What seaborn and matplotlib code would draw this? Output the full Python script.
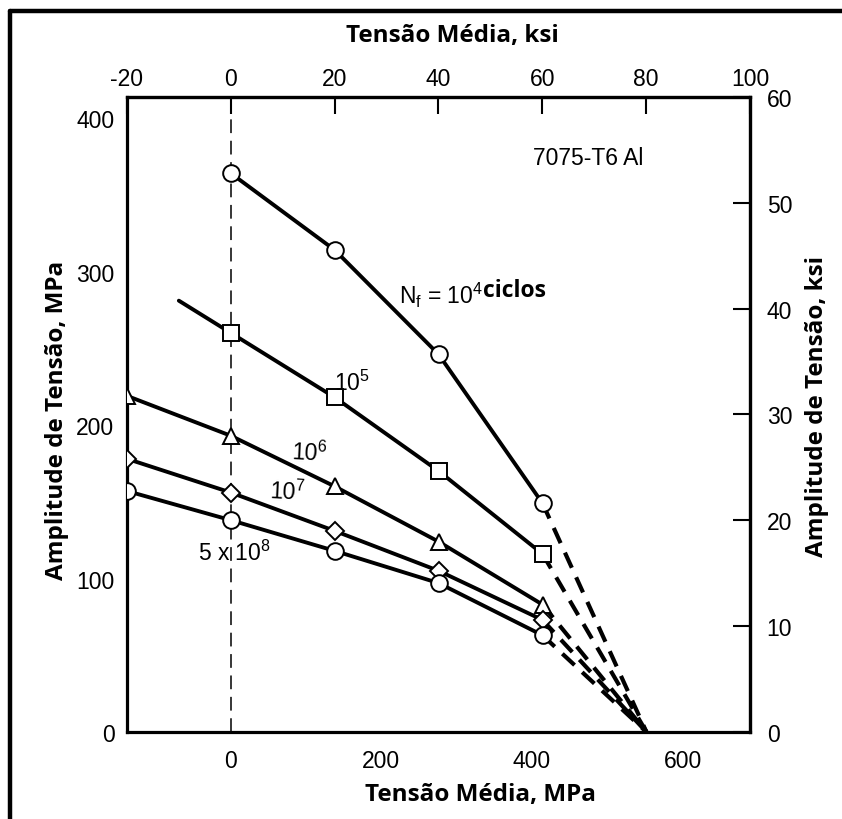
###
# Haigh-type diagram for 7075-T6 aluminium: stress amplitude vs mean stress
###

import matplotlib
matplotlib.use('Agg')
import matplotlib.pyplot as plt
import seaborn as sns
from matplotlib.lines import Line2D

MPA_PER_KSI = 6.895

# Mean stress of each test point, MPa (-20, 0, 20, 40, 60 ksi)
x_1e4 = [0, 138, 276, 414]
x_1e5 = [0, 138, 276, 414]
x_long = [-138, 0, 138, 276, 414]

# Stress amplitude at each point, MPa
y_1e4 = [364, 314, 246, 149]
y_1e5 = [260, 218, 170, 116]
y_1e6 = [219, 193, 160, 124, 83]
y_1e7 = [178, 156, 131, 105, 73]
y_5e8 = [157, 138, 118, 97, 63]

# The 10^5 curve is drawn on past its first point
x_1e5_start = -69
y_1e5_start = 281

# All curves are extrapolated (dashed) to zero amplitude here, MPa
x_ultimate = 552

series = [
    (x_1e4, y_1e4, 'o', 12),
    (x_1e5, y_1e5, 's', 11),
    (x_long, y_1e6, '^', 12),
    (x_long, y_1e7, 'D', 9),
    (x_long, y_5e8, 'o', 12),
]

sns.set_theme(style='white')
plt.rcParams['font.family'] = ['Liberation Sans', 'DejaVu Sans']
plt.rcParams['mathtext.default'] = 'regular'
plt.rcParams['axes.unicode_minus'] = False

fig = plt.figure(figsize=(8.42, 8.20), dpi=100)
ax = fig.add_axes([0.1508, 0.1061, 0.7399, 0.7744])

# Vertical reference line at zero mean stress
ax.axvline(0, color='black', lw=1.1, ls=(0, (9, 5)), zorder=1)

for xs, ys, mk, ms in series:
    line_x = list(xs)
    line_y = list(ys)
    if ys is y_1e5:
        line_x = [x_1e5_start] + line_x
        line_y = [y_1e5_start] + line_y
    sns.lineplot(x=line_x, y=line_y, ax=ax, color='black', lw=2.8,
                 sort=False, estimator=None, zorder=2)
    # dashed extrapolation to the x axis
    sns.lineplot(x=[xs[-1], x_ultimate], y=[ys[-1], 0], ax=ax, color='black',
                 lw=3.0, ls=(0, (4, 2.5)), sort=False, estimator=None, zorder=2)
    ax.plot(xs, ys, ls='none', marker=mk, ms=ms,
            mfc='white', mec='black', mew=1.4, zorder=3)

ax.set_xlim(-20 * MPA_PER_KSI, 100 * MPA_PER_KSI)
ax.set_ylim(0, 60 * MPA_PER_KSI)
ax.set_xticks([-100, 0, 100, 200, 300, 400, 500, 600])
ax.set_xticklabels(['', '0', '', '200', '', '400', '', '600'])
ax.set_yticks([0, 100, 200, 300, 400])

tick_kw = dict(direction='in', length=12, width=1.5, labelsize=16.5, colors='black')
ax.tick_params(axis='both', which='major', pad=9, **tick_kw)
ax.tick_params(axis='x', pad=12)

for s in ax.spines.values():
    s.set_visible(True)
    s.set_color('black')
    s.set_linewidth(2.3)

# Secondary scales in ksi
top = ax.secondary_xaxis('top', functions=(lambda v: v / MPA_PER_KSI, lambda v: v * MPA_PER_KSI))
top.set_xticks([-20, 0, 20, 40, 60, 80, 100])
top.tick_params(pad=5, **tick_kw)
right = ax.secondary_yaxis('right', functions=(lambda v: v / MPA_PER_KSI, lambda v: v * MPA_PER_KSI))
right.set_yticks([0, 10, 20, 30, 40, 50, 60])
right.tick_params(pad=12, **tick_kw)
for sec in (top, right):
    for s in sec.spines.values():
        s.set_linewidth(2.3)

# Axis labels
label_kw = dict(fontfamily='Open Sans', fontweight='bold', fontsize=17.5, color='black')
ax.set_xlabel('Tensão Média, MPa', **label_kw)
ax.xaxis.set_label_coords(0.567, -0.098)
ax.xaxis.label.set_va('center')
ax.set_ylabel('Amplitude de Tensão, MPa', **label_kw)
ax.yaxis.set_label_coords(-0.112, 0.493)
ax.yaxis.label.set_va('center')
fig.text(0.537, 0.956, 'Tensão Média, ksi', ha='center', va='center', **label_kw)
fig.text(0.970, 0.504, 'Amplitude de Tensão, ksi', ha='center', va='center',
         rotation=90, **label_kw)

# Curve annotations
note_kw = dict(fontsize=16.5, color='black', va='center')
ax.text(475, 374, '7075-T6 Al', ha='center', **note_kw)
ax.text(223, 285, r'$N_f$ = 10$^4$', ha='left', **note_kw)
ax.text(335, 288, 'ciclos', ha='left', fontfamily='Open Sans', fontweight='bold',
        fontsize=16.5, color='black', va='center')
ax.text(161, 228, '10$^5$', ha='center', **note_kw)
ax.text(104, 182, '10$^6$', ha='center', rotation=-3, **note_kw)
ax.text(75, 157, '10$^7$', ha='center', rotation=-3, **note_kw)
ax.text(5, 117, '5 x 10$^8$', ha='center', **note_kw)

# Frame of the scanned figure (top and left edges)
fig.add_artist(Line2D([0.0119, 1.0], [0.9854, 0.9854], color='black', lw=3.2))
fig.add_artist(Line2D([0.0119, 0.0119], [0.0, 0.9854], color='black', lw=3.2))

plt.savefig('out.png', dpi=100, facecolor='white')
plt.close()
